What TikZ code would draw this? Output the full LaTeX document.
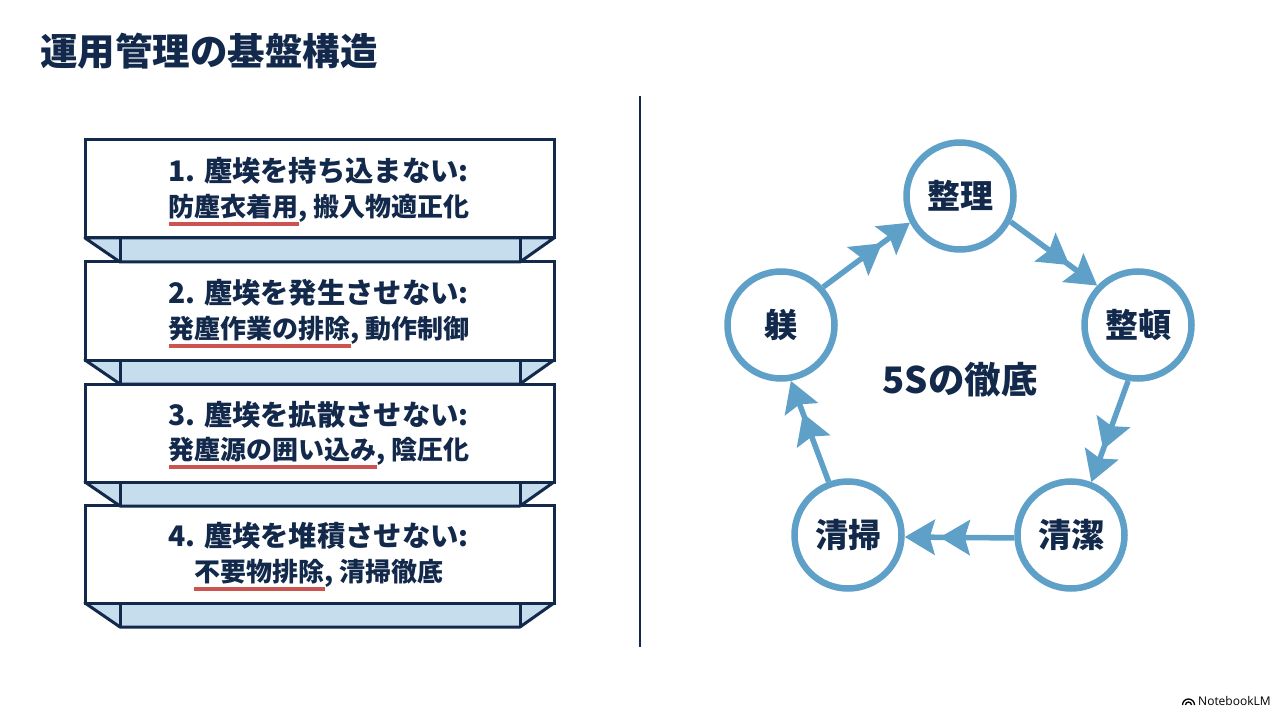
\documentclass[tikz,border=0pt]{standalone}
\usepackage{fontspec}
\setmainfont{Noto Sans CJK JP}
\newfontfamily\logofont{Open Sans}
\usetikzlibrary{arrows.meta,decorations.markings}
\definecolor{navy}{HTML}{12294B}
\definecolor{ringblue}{HTML}{5FA0C8}
\definecolor{bandblue}{HTML}{C6DDEE}
\definecolor{redline}{HTML}{CB5350}
\tikzset{
  x=1pt,y=-1pt,
  panel/.style={draw=navy,line width=3pt,fill=white,line join=miter,minimum width=469pt,minimum height=98pt,inner sep=0pt,outer sep=0pt,anchor=north west},
  band/.style={draw=navy,line width=3pt,fill=bandblue,line join=round},
  bodytext/.style={text=navy,font=\fontsize{26}{30}\selectfont\bfseries,inner sep=0pt,anchor=center},
  headtext/.style={text=navy,font=\fontsize{28.3}{30}\selectfont\bfseries,inner sep=0pt,anchor=center},
  mark line/.style={draw=redline,line width=3.2pt},
  ringnode/.style={circle,draw=ringblue,line width=6.5pt,fill=white,minimum size=107pt,inner sep=0pt,text=navy,font=\fontsize{33}{36}\selectfont\bfseries},
  flow/.style={draw=ringblue,line width=5.5pt,
    -{Stealth[length=30pt,width=35pt,inset=5pt]},
    postaction={decorate,decoration={markings,mark=at position 0.68 with {\arrow{Stealth[length=30pt,width=35pt,inset=5pt]}}}}},
}
\newcommand{\ribbon}[2]{%
  \draw[band] (85,#1+98) -- (120,#1+122) -- (520,#1+122) -- (554,#1+98) -- cycle;
  \draw[navy,line width=3pt] (120,#1+98) -- (120,#1+122) (520,#1+98) -- (520,#1+122);
  \node[panel] (#2) at (85,#1) {};
}
\begin{document}
\begin{tikzpicture}
\useasboundingbox[fill=white] (0,0) rectangle (1280,714);
\node[text=navy,font=\fontsize{37.5}{42}\selectfont\bfseries,inner sep=0pt,anchor=west] (title) at (40,51) {運用管理の基盤構造};

\ribbon{505}{p4}
\ribbon{384}{p3}
\ribbon{262}{p2}
\ribbon{140}{p1}

\node[headtext] (t1a) at (318.5,171) {1. 塵埃を持ち込まない:};
\node[bodytext] (t1b) at (319,208) {防塵衣着用, 搬入物適正化};
\node[headtext] (t2a) at (318.5,293) {2. 塵埃を発生させない:};
\node[bodytext] (t2b) at (319,330) {発塵作業の排除, 動作制御};
\node[headtext] (t3a) at (318.5,415) {3. 塵埃を拡散させない:};
\node[bodytext] (t3b) at (319,451) {発塵源の囲い込み, 陰圧化};
\node[headtext] (t4a) at (318.5,536) {4. 塵埃を堆積させない:};
\node[bodytext] (t4b) at (319,573) {不要物排除, 清掃徹底};

\draw[mark line] (169,224) -- (299,224);
\draw[mark line] (169,346) -- (351,346);
\draw[mark line] (169,467) -- (377,467);
\draw[mark line] (194,589) -- (325,589);

\draw[navy,line width=2pt] (640,96) -- (640,647);

\node[ringnode] (a) at (960,196) {整理};
\node[ringnode] (b) at (1138,325) {整頓};
\node[ringnode] (c) at (1071,535) {清潔};
\node[ringnode] (d) at (848,535) {清掃};
\node[ringnode] (e) at (781,325) {躾};
\node[text=navy,font=\fontsize{36.5}{40}\selectfont\bfseries,inner sep=0pt] (center) at (960,380) {5Sの徹底};

\draw[flow] (a.-27.5) -- (b.136);
\draw[flow] (b.-100) -- (c.69);
\draw[flow] (c.183) -- (d.-2);
\draw[flow] (d.110.7) -- (e.-80);
\draw[flow] (e.42) -- (a.208);

\node[text=black,font=\logofont\fontsize{12}{14}\selectfont,inner sep=0pt,anchor=west] (logo) at (1198,701) {NotebookLM};
\draw[black,line width=1.3pt] (1182.5,705) arc[start angle=180,end angle=360,radius=6];
\draw[black,line width=1.3pt] (1185.5,705) arc[start angle=180,end angle=360,radius=3];
\end{tikzpicture}
\end{document}
